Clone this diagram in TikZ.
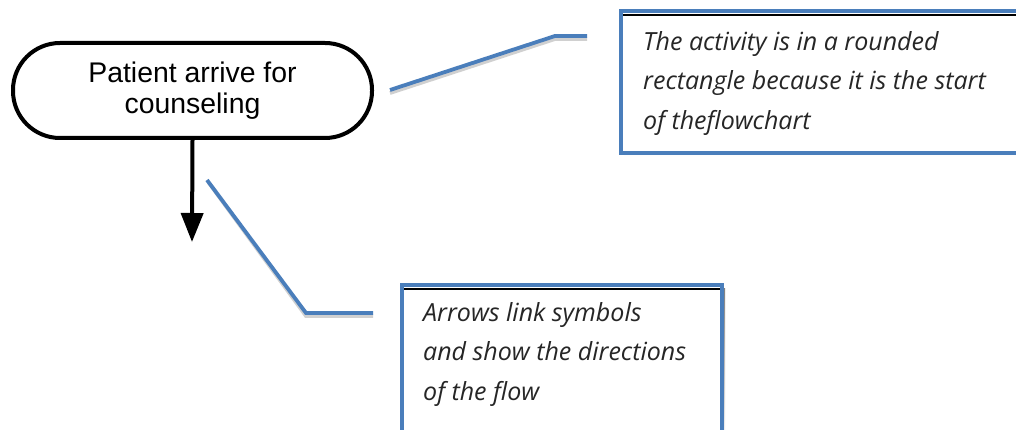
\documentclass[tikz,border=0pt]{standalone}
\usepackage{fontspec}
\setmainfont{Liberation Sans}
\newfontfamily\handfont{Open Sans}
\usetikzlibrary{arrows.meta}
\definecolor{wordblue}{HTML}{4A7EBB}
\definecolor{shade}{HTML}{D0D0D0}
\begin{document}
\begin{tikzpicture}[x=1pt,y=-1pt,
  startbox/.style={draw=black,line width=4pt,rounded corners=47pt,fill=white,
    minimum width=359pt,minimum height=95pt,align=center,
    font=\fontsize{28.4}{31}\selectfont},
  boxframe/.style={draw=wordblue,line width=4pt,fill=white},
  callout/.style={align=left,inner sep=0pt,text=black!85,
    font=\handfont\itshape\fontsize{25}{39.5}\selectfont},
  leader/.style={draw=wordblue,line width=3.8pt},
  leadshade/.style={draw=shade,line width=3.8pt},
  flow/.style={draw=black,line width=4pt,-{Triangle[width=22pt,length=29pt]}}
]
\useasboundingbox (0,0) rectangle (1016,430);
\fill[white] (0,0) rectangle (1016,430);

% start terminal
\node[startbox] (start) at (192.5,90.5) {Patient arrive for\\counseling};
\coordinate (flowend) at (192,242);
\draw[flow] (start.south) -- (flowend);

% callout 1 box (shadow + frame)
\fill[shade] (624,14) rectangle (1030,157);
\draw[boxframe] (621,11) rectangle (1030,153);
\draw[shade,line width=2pt] (623,15) -- (1030,15);
\node[callout,anchor=north west] (c1) at (643,31)
  {The activity is in a rounded\\rectangle because it is the start\\of theflowchart};

% callout 2 box
\fill[shade] (405,288) rectangle (725,450);
\draw[boxframe] (402,285) rectangle (722,450);
\draw[shade,line width=2pt] (404,289) -- (720,289);
\node[callout,anchor=north west] (c2) at (423,302)
  {Arrows link symbols\\and show the directions\\of the flow};

% leader lines
\coordinate (l1a) at (390,90);
\coordinate (l1b) at (555,36);
\coordinate (l1c) at (587,36);
\draw[leadshade] ([yshift=-3pt]l1a) -- ([yshift=-3pt]l1b) -- ([yshift=-3pt]l1c);
\draw[leader] (l1a) -- (l1b) -- (l1c);

\coordinate (l2a) at (207,180);
\coordinate (l2b) at (306,313);
\coordinate (l2c) at (373,313);
\draw[leadshade] ([shift={(2pt,-3pt)}]l2a) -- ([yshift=-3pt]l2b) -- ([yshift=-3pt]l2c);
\draw[leader] (l2a) -- (l2b) -- (l2c);
\end{tikzpicture}
\end{document}
